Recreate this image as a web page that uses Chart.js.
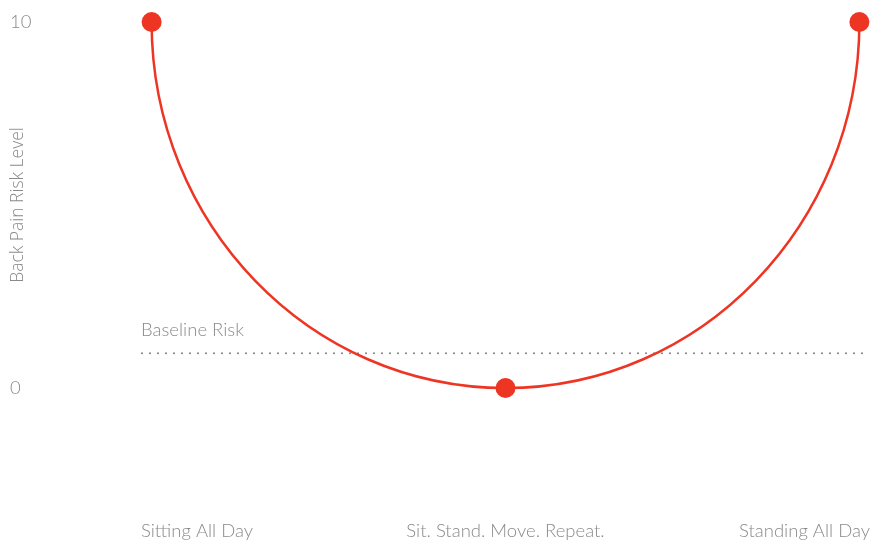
<!DOCTYPE html>
<html>
<head>
<meta charset="utf-8">
<script src="https://cdn.jsdelivr.net/npm/chart.js@4"></script>
<style>
  html, body { margin: 0; padding: 0; background: #fff; overflow: hidden; }
  #wrap { width: 870px; height: 540px; }
</style>
</head>
<body>
<div id="wrap"><canvas id="riskChart"></canvas></div>
<script>
// data
const categories = ["Sitting All Day", "Sit. Stand. Move. Repeat.", "Standing All Day"];
const riskLevels = [10, 0, 10];
const yTicks = [0, 10];
const baselineRisk = 0.95;
const baselineLabel = "Baseline Risk";

const red = "#ee3524";
const grey = "#8a8a8a";
const labelFont = { family: "Lato", weight: 300, size: 18.5 };

// bend each segment into a quarter ellipse (vertical at the top points, flat at the bottom)
const ellipseCurve = {
  id: "ellipseCurve",
  beforeDatasetsDraw(chart) {
    const meta = chart.getDatasetMeta(0);
    const pts = meta.data;
    const k = 0.5523;
    for (let i = 0; i < pts.length - 1; i++) {
      const a = pts[i], b = pts[i + 1];
      if (b.y > a.y) {
        a.cp2x = a.x; a.cp2y = a.y + k * (b.y - a.y);
        b.cp1x = b.x - k * (b.x - a.x); b.cp1y = b.y;
      } else {
        a.cp2x = a.x + k * (b.x - a.x); a.cp2y = a.y;
        b.cp1x = b.x; b.cp1y = b.y + k * (a.y - b.y);
      }
    }
    meta.dataset._pointsUpdated = true;
    meta.dataset._path = undefined;
  }
};

// dotted baseline with its label
const baseline = {
  id: "baseline",
  beforeDatasetsDraw(chart) {
    const { ctx, chartArea, scales } = chart;
    const y = scales.y.getPixelForValue(baselineRisk);
    ctx.save();
    ctx.strokeStyle = grey;
    ctx.lineWidth = 2.2;
    ctx.lineCap = "round";
    ctx.setLineDash([0, 8]);
    ctx.beginPath();
    ctx.moveTo(chartArea.left + 1, y);
    ctx.lineTo(chartArea.right, y);
    ctx.stroke();
    ctx.setLineDash([]);
    ctx.fillStyle = grey;
    ctx.font = "300 18.5px Lato";
    ctx.textBaseline = "middle";
    ctx.fillText(baselineLabel, chartArea.left, y - 23);
    ctx.restore();
  }
};

new Chart(document.getElementById("riskChart"), {
  type: "line",
  data: {
    datasets: [{
      data: riskLevels.map((v, i) => ({ x: i, y: v })),
      borderColor: red,
      borderWidth: 2.5,
      tension: 0.4,
      pointRadius: 10,
      pointHoverRadius: 10,
      pointBackgroundColor: red,
      pointBorderWidth: 0,
      clip: false,
      fill: false
    }]
  },
  options: {
    responsive: true,
    maintainAspectRatio: false,
    animation: false,
    layout: { autoPadding: false, padding: { top: 22, left: 10, right: 0, bottom: 0 } },
    plugins: { legend: { display: false }, tooltip: { enabled: false } },
    scales: {
      x: {
        type: "linear",
        min: -0.03,
        max: 2.03,
        grid: { display: false },
        border: { display: false },
        afterBuildTicks: (s) => { s.ticks = [s.min, 1, s.max].map(v => ({ value: v })); },
        afterFit: (s) => { s.height = 152; s.paddingLeft = 0; s.paddingRight = 0; },
        ticks: {
          padding: 124,
          align: "inner",
          maxRotation: 0,
          autoSkip: false,
          color: grey,
          font: labelFont,
          callback: (v, i) => categories[i]
        }
      },
      y: {
        min: 0,
        max: 10,
        grid: { display: false },
        border: { display: false },
        afterBuildTicks: (s) => { s.ticks = yTicks.map(v => ({ value: v })); },
        afterFit: (s) => { s.width = 131; s.paddingTop = 0; s.paddingBottom = 0; },
        ticks: { crossAlign: "far", color: grey, font: labelFont },
        title: {
          display: true,
          text: "Back Pain Risk Level",
          color: grey,
          font: { family: "Open Sans", weight: 300, size: 17.5 },
          padding: { top: -2, bottom: 0 }
        }
      }
    }
  },
  plugins: [ellipseCurve, baseline]
});
</script>
</body>
</html>
